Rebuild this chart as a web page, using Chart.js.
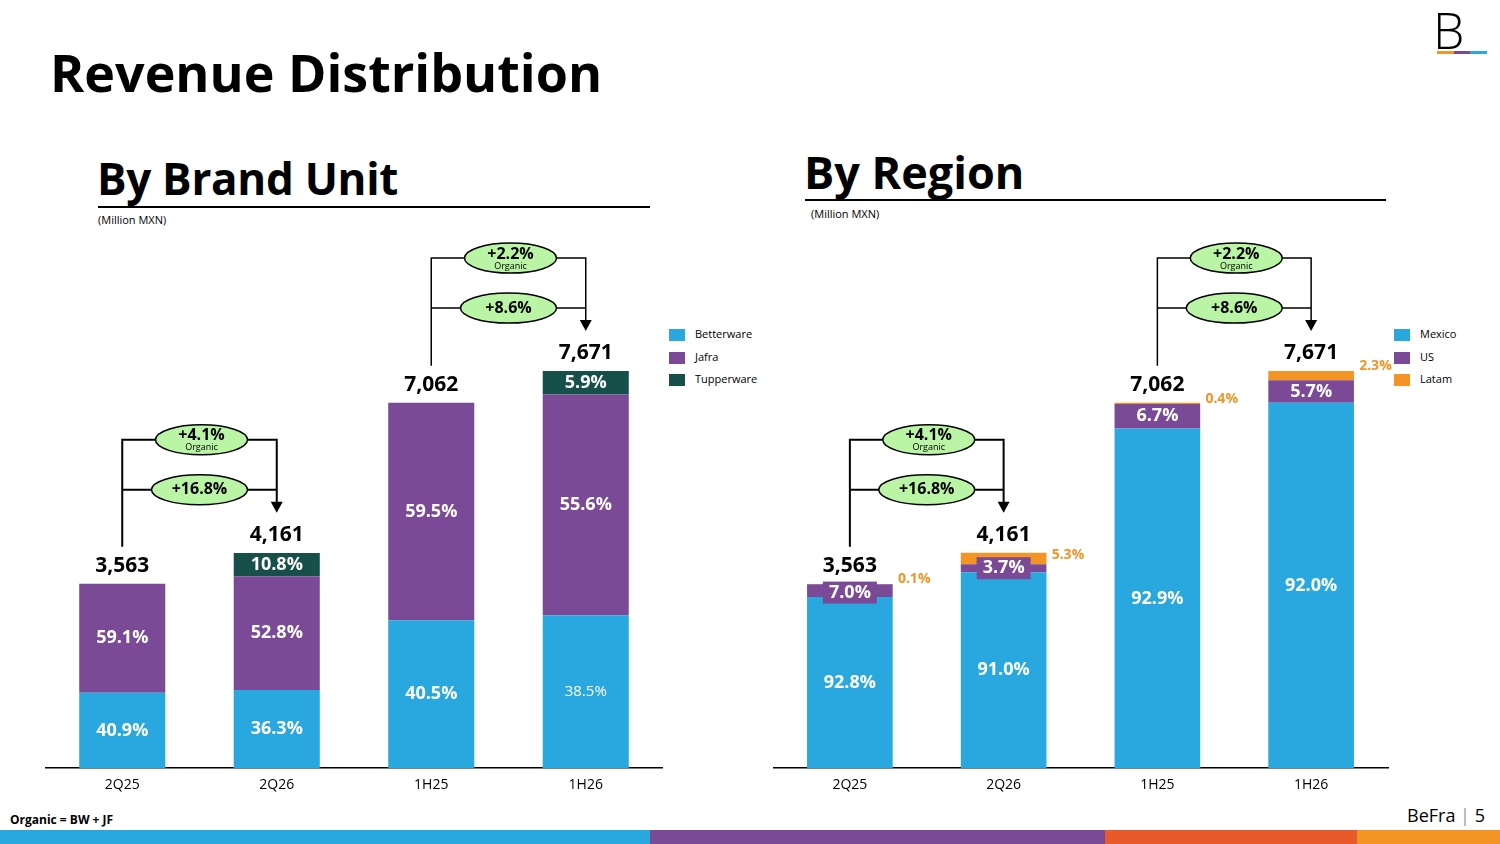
<!DOCTYPE html>
<html><head><meta charset="utf-8">
<script src="https://cdn.jsdelivr.net/npm/chart.js@4.4.0/dist/chart.umd.min.js"></script>
<style>
body{margin:0;width:1500px;height:844px;position:relative;background:#fff;font-family:"Open Sans",sans-serif;overflow:hidden}
.a{position:absolute;white-space:nowrap}
canvas{position:absolute}
.lg{position:absolute;font-size:11px;color:#000}
.lg span{display:inline-block;width:16px;height:12px;vertical-align:middle;margin-right:10px}
</style></head><body>
<div class="a" style="left:50px;top:36px;font-size:52px;font-weight:700">Revenue Distribution</div>
<div class="a" style="left:97px;top:148px;font-size:44px;font-weight:700;letter-spacing:-0.3px">By Brand Unit</div>
<div class="a" style="left:98px;top:206px;width:552px;border-top:2px solid #000"></div>
<div class="a" style="left:98px;top:212px;font-size:11px">(Million MXN)</div>
<div class="a" style="left:804px;top:141px;font-size:45px;font-weight:700">By Region</div>
<div class="a" style="left:805px;top:199px;width:581px;border-top:2px solid #000"></div>
<div class="a" style="left:811px;top:206px;font-size:11px">(Million MXN)</div>
<div class="a" style="left:1433px;top:-4px;font-size:50px;font-weight:300">B</div>
<div class="a" style="left:1437px;top:51px;width:17px;height:3px;background:#F39425"></div>
<div class="a" style="left:1454px;top:51px;width:16px;height:3px;background:#7B4A96"></div>
<div class="a" style="left:1470px;top:51px;width:17px;height:3px;background:#29A8E0"></div>
<div class="lg" style="left:669px;top:326px"><span style="background:#29A8E0"></span>Betterware</div>
<div class="lg" style="left:669px;top:349px"><span style="background:#7B4A96"></span>Jafra</div>
<div class="lg" style="left:669px;top:371px"><span style="background:#174F4A"></span>Tupperware</div>
<div class="lg" style="left:1394px;top:326px"><span style="background:#29A8E0"></span>Mexico</div>
<div class="lg" style="left:1394px;top:349px"><span style="background:#7B4A96"></span>US</div>
<div class="lg" style="left:1394px;top:371px"><span style="background:#F39425"></span>Latam</div>
<div class="a" style="left:10px;top:811px;font-size:12px;font-weight:700">Organic = BW + JF</div>
<div class="a" style="left:1407px;top:803px;font-size:18px">BeFra <span style="color:#999">|</span> 5</div>
<div class="a" style="left:0;top:830px;width:650px;height:14px;background:#29A8E0"></div>
<div class="a" style="left:650px;top:830px;width:455px;height:14px;background:#7B4A96"></div>
<div class="a" style="left:1105px;top:830px;width:252px;height:14px;background:#E95A2A"></div>
<div class="a" style="left:1357px;top:830px;width:143px;height:14px;background:#F39425"></div>
<canvas id="c1" width="618" height="573" style="left:45px;top:220px"></canvas>
<canvas id="c2" width="660" height="573" style="left:773px;top:220px"></canvas>
<script>
const periods = ['2Q25', '2Q26', '1H25', '1H26'];
const totals = [3563, 4161, 7062, 7671];
const betterwarePct = [40.9, 36.3, 40.5, 38.5];
const jafraPct = [59.1, 52.8, 59.5, 55.6];
const tupperwarePct = [0, 10.8, 0, 5.9];
const mexicoPct = [92.8, 91.0, 92.9, 92.0];
const usPct = [7.0, 3.7, 6.7, 5.7];
const latamPct = [0.1, 5.3, 0.4, 2.3];
// comparisons: [from, to, organic, total growth]
const growth = [[0, 1, '+4.1%', '+16.8%'], [2, 3, '+2.2%', '+8.6%']];

const BLUE = '#29A8E0', PURPLE = '#7B4A96', TEAL = '#174F4A', ORANGE = '#F39425';
const FONT = '"Open Sans", sans-serif';
const YMAX = 10590;

function toVals(p) { return p.map((v, i) => totals[i] * v / 100); }

function ellipse(ctx, x, y, w, h, big, small) {
  ctx.beginPath();
  ctx.ellipse(x, y, w / 2, h / 2, 0, 0, Math.PI * 2);
  ctx.fillStyle = '#B9F5A4'; ctx.fill();
  ctx.lineWidth = 1.5; ctx.strokeStyle = '#000'; ctx.stroke();
  ctx.fillStyle = '#000'; ctx.textAlign = 'center'; ctx.textBaseline = 'middle';
  ctx.font = 'bold 16px ' + FONT;
  ctx.fillText(big, x, small ? y - 4 : y);
  if (small) { ctx.font = '9px ' + FONT; ctx.fillText(small, x, y + 8); }
}

function arrowDown(ctx, x, y) {
  ctx.beginPath(); ctx.moveTo(x - 6, y - 11); ctx.lineTo(x + 6, y - 11); ctx.lineTo(x, y); ctx.closePath();
  ctx.fillStyle = '#000'; ctx.fill();
}

// labels, totals and growth brackets
const deco = {
  id: 'deco',
  afterDatasetsDraw(chart, args, opts) {
    const ctx = chart.ctx, xs = chart.scales.x, ys = chart.scales.y;
    ctx.save();
    ctx.textAlign = 'center'; ctx.textBaseline = 'middle';
    totals.forEach((t, i) => {
      const x = xs.getPixelForValue(i), top = ys.getPixelForValue(t);
      ctx.fillStyle = '#000'; ctx.font = 'bold 21px ' + FONT;
      ctx.fillText(t.toLocaleString('en-US'), x, top - 18);
    });
    chart.data.datasets.forEach((ds, di) => {
      const meta = chart.getDatasetMeta(di);
      meta.data.forEach((bar, i) => {
        const p = ds.pct[i];
        if (!p) return;
        const txt = p.toFixed(1) + '%';
        const mid = (bar.y + bar.base) / 2;
        if (ds.outside) {
          ctx.fillStyle = ORANGE; ctx.font = 'bold 14px ' + FONT; ctx.textAlign = 'left';
          const off = opts.orangeOff[i];
          ctx.fillText(txt, bar.x + 48, mid + off);
          ctx.textAlign = 'center';
          return;
        }
        let y = mid + (ds.shift ? ds.shift[i] : 0);
        if (ds.boxed && ds.boxed[i]) {
          ctx.fillStyle = PURPLE; ctx.fillRect(bar.x - 27, y - 11, 54, 22);
        }
        ctx.fillStyle = '#fff';
        ctx.font = (ds.light && ds.light[i] ? '15px ' : 'bold 18px ') + FONT;
        ctx.fillText(txt, bar.x, y);
      });
    });
    ctx.strokeStyle = '#000'; ctx.lineWidth = 2;
    growth.forEach(g => {
      const x1 = xs.getPixelForValue(g[0]), x2 = xs.getPixelForValue(g[1]);
      const y1 = ys.getPixelForValue(totals[g[0]]) - 37;
      const hi = ys.getPixelForValue(totals[g[1]]);
      const top = hi - 113, midY = hi - 63, tip = hi - 40;
      ctx.beginPath();
      ctx.moveTo(x1, y1); ctx.lineTo(x1, top); ctx.lineTo(x2, top); ctx.lineTo(x2, tip - 10);
      ctx.moveTo(x1, midY); ctx.lineTo(x2, midY);
      ctx.stroke();
      arrowDown(ctx, x2, tip);
      const cx = (x1 + x2) / 2;
      ellipse(ctx, cx + 2, top, 92, 30, g[2], 'Organic');
      ellipse(ctx, cx, midY, 96, 30, g[3]);
    });
    ctx.restore();
  }
};

function makeChart(id, datasets, orangeOff, padRight) {
  return new Chart(document.getElementById(id), {
    type: 'bar',
    data: { labels: periods, datasets: datasets },
    options: {
      responsive: false, animation: false,
      layout: { padding: { right: padRight } },
      datasets: { bar: { barPercentage: 0.557, categoryPercentage: 1 } },
      plugins: { legend: { display: false }, tooltip: { enabled: false }, deco: { orangeOff: orangeOff } },
      scales: {
        x: { stacked: true, grid: { display: false }, border: { display: true, color: '#000', width: 1.5 },
             ticks: { color: '#000', font: { family: FONT, size: 14 }, padding: 0 } },
        y: { stacked: true, display: false, min: 0, max: YMAX }
      }
    },
    plugins: [deco]
  });
}

makeChart('c1', [
  { data: toVals(betterwarePct), pct: betterwarePct, backgroundColor: BLUE, light: [0, 0, 0, 1] },
  { data: toVals(jafraPct), pct: jafraPct, backgroundColor: PURPLE },
  { data: toVals(tupperwarePct), pct: tupperwarePct, backgroundColor: TEAL }
], [0, 0, 0, 0], 0);

makeChart('c2', [
  { data: toVals(mexicoPct), pct: mexicoPct, backgroundColor: BLUE },
  { data: toVals(usPct), pct: usPct, backgroundColor: PURPLE, boxed: [1, 1, 0, 0], shift: [2, 0, 0, 0] },
  { data: toVals(latamPct), pct: latamPct, backgroundColor: ORANGE, outside: true }
], [-5, -3, -4, -10], 45);
</script>
</body></html>
